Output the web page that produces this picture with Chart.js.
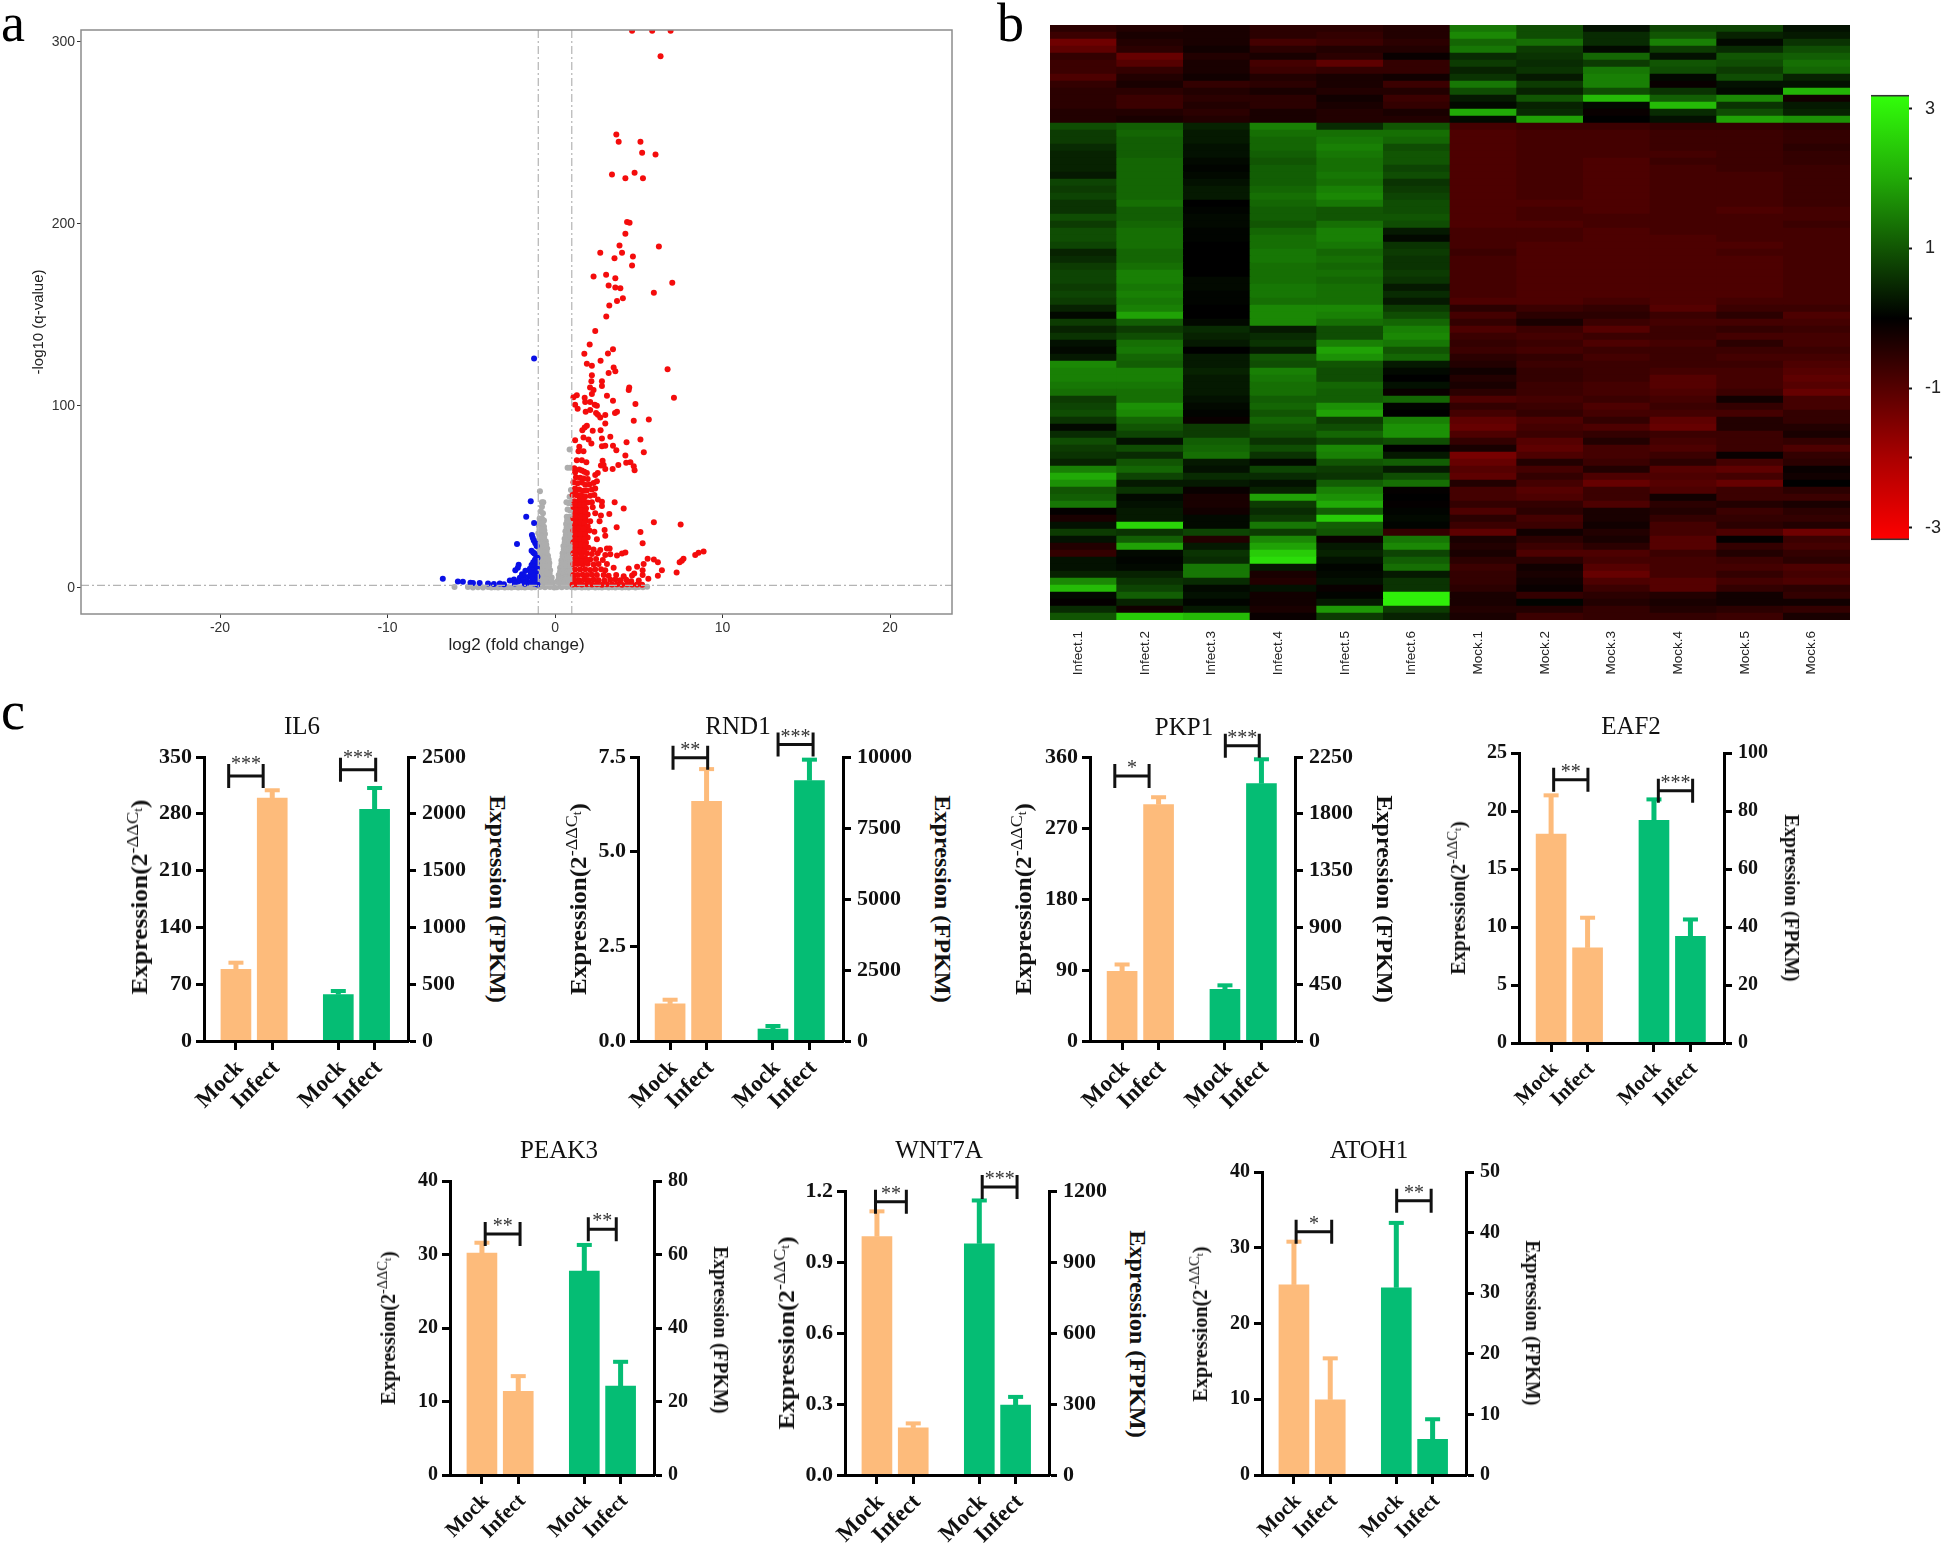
<!DOCTYPE html>
<html>
<head>
<meta charset="utf-8">
<script src="https://cdn.jsdelivr.net/npm/chart.js@4/dist/chart.umd.min.js"></script>
<style>
  body { margin: 0; background: #fff; }
  #page { position: relative; width: 1946px; height: 1543px; overflow: hidden; }
  canvas { position: absolute; }
  .letter { position: absolute; font: 54px "Liberation Serif", serif; color: #000; line-height: 1; }
  .gene { position: absolute; font: 25px "Liberation Serif", serif; color: #111; transform: translate(-50%, -50%); white-space: nowrap; }
  .axtitle { position: absolute; font-family: "Liberation Serif", serif; font-weight: bold; color: #111; white-space: nowrap; line-height: 1; }
  .axtitle sup { font-size: 72%; font-weight: normal; line-height: 0; }
  .axtitle sub { font-size: 75%; line-height: 0; }
</style>
</head>
<body>
<div id="page"></div>
<script>
// ---- panel a: volcano plot, [log2FC, -log10 q]
const redPoints = [
  [4.6,306],[5.8,306],[6.9,306],[6.3,292],[3.66,249],[3.8,245],[5.1,245],[5.2,239],[6.0,238],
  [3.4,227],[4.75,228],[4.2,225],[5.25,225],[4.3,201],[4.45,200.5],[4.2,194.5],[3.85,188],[6.2,187.5],
  [4.0,184],[2.7,184],[3.55,181],[4.65,182],[4.6,177],[3.05,172],[2.3,171],[3.6,170],[7.0,167.5],
  [3.2,166],[3.6,165],[3.9,164.5],[5.9,162],[4.05,159],[3.7,157.5],[3.24,155],[3.06,149],[2.4,141],
  [2.07,133.7],[3.46,131],[3.16,128.7],[1.75,128.6],[2.72,124.7],[1.9,123],[2.2,122],[3.5,121],[6.72,120],
  [3.6,119],[3.2,118],[2.2,116.7],[2.17,113.5],[2.8,113.5],[2.8,110.8],[4.43,110],[4.4,108.6],[2.09,110],
  [2.3,108.6],[2.2,106.4],[1.3,105.7],[1.1,104.6],[3.1,105.5],[7.1,104.4],[1.77,104.4],[1.8,102],[3.46,102.7],
  [2.1,102],[2.37,100.5],[2.5,100],[4.8,101],[1.2,100.5],[1.35,98.4],[1.83,96.7],[2.1,97.6],[2.45,96],
  [2.56,95],[2.7,93.6],[3.0,94.9],[3.7,96.7],[3.58,96],[4.7,91.8],[5.6,92.5],[3.0,90.3],[1.9,89],[1.77,88],
  [1.63,86.6],[2.25,86.3],[2.72,86.6],[1.7,82.6],[1.2,81],[2.0,81.5],[2.17,79.3],[2.8,82],[3.3,83],[4.27,80],
  [5.1,81.5],[1.45,77.5],[1.4,75],[1.7,75],[2.8,77.8],[3.0,78],[3.46,78],[3.66,75.5],[5.3,74.4],[4.2,72.7],
  [1.3,70],[1.6,70],[1.87,68.9],[2.84,69.8],[2.74,67.2],[2.9,67.4],[4.25,68.7],[4.5,69],[3.78,67.4],[4.7,66.8],
  [3.0,65.2],[3.44,65.2],[4.75,64.5],
  [1.15,65.6],[1.2,63.5],[1.45,65],[1.6,64.4],[1.75,63.8],[1.9,63],[1.25,60.7],[1.5,60.5],[1.7,60],[1.95,59.7],[2.4,62],[2.55,63],
  [1.1,58],[1.35,57.4],[1.6,57.8],[1.8,56.6],[2.05,56.7],[2.3,57.5],[2.5,58.5],[1.2,54.5],[1.45,54],[1.7,53.3],[1.9,53.5],[2.2,54],[2.4,54.6],
  [1.05,51],[1.3,50.8],[1.55,51],[1.8,50.2],[2.1,50.5],[2.35,51],[2.56,48.5],[2.8,47.3],[2.8,44.9],[3.56,47],[1.15,47.6],[1.4,47.4],[1.65,47.8],[1.95,46.8],[2.2,47],
  [1.1,44.4],[1.35,44],[1.6,44.2],[1.85,43.5],[2.25,44.2],[4.1,43.6],[1.2,41],[1.45,40.8],[1.7,40.5],[1.95,40.2],[2.4,41],[3.24,40.5],[2.74,39.7],
  [1.1,38],[1.35,37.5],[1.6,37.6],[1.85,37],[2.1,36.6],[2.66,36.6],[5.9,36],[7.5,34.8],[1.2,34.4],[1.45,34.5],[1.7,34],[1.95,33.8],[3.68,33.3],
  [1.1,31.4],[1.3,31],[1.55,31.2],[1.8,31],[2.05,31.4],[2.35,30.8],[2.96,31.7],[5.1,30.6],[1.2,28],[1.45,28.2],[1.7,28],[1.95,27.6],[3.0,28.6],
  [1.1,25],[1.35,25.2],[1.6,25],[1.85,24.8],[2.5,26.6],[5.23,24.5],[1.2,22],[1.45,22.2],[1.7,21.8],[2.0,22],[2.3,21],[3.1,21.6],[3.26,21.6],[2.7,20.7],
  [1.1,19],[1.35,19.2],[1.6,18.8],[1.9,19],[2.2,18.6],[2.55,19],[3.0,18],[3.3,18.4],[4.0,18.9],[4.2,19.4],[3.7,17.8],[8.87,20],[8.57,19.2],[8.37,18],
  [1.2,16],[1.5,16],[1.8,16.2],[2.1,15.6],[2.45,15.8],[2.85,15.2],[7.67,16],[7.57,14.8],[7.44,14],[5.9,15.6],[5.53,16],[6.14,14],
  [1.1,13],[1.35,13],[1.65,12.8],[1.95,13.2],[2.3,12.8],[2.6,13],[3.1,13],[5.29,13],[4.9,11.5],[4.4,10.6],[3.5,11],
  [1.2,10],[1.5,10],[1.8,10.2],[2.1,9.8],[2.4,10],[2.75,10.2],[3.0,9.6],[5.23,9.7],[6.38,9.7],[7.26,8.4],[4.73,7.9],
  [1.1,7],[1.35,7],[1.65,7.2],[1.9,7],[2.2,7.2],[2.5,7],[2.9,7],[3.2,6.6],[3.65,7],[4.1,6.4],[4.6,6.8],[5.23,7],[6.14,6.6],
  [1.15,4.4],[1.45,4.2],[1.75,4.5],[2.0,4.2],[2.3,4.4],[2.6,4.2],[2.95,4],[3.3,4.4],[3.6,4.6],[3.9,4.2],[4.25,4.4],[4.55,3.6],[5.0,4],[5.57,5],
  [1.05,1.8],[1.3,2],[1.6,1.8],[1.9,2],[2.2,1.8],[2.5,2],[2.8,1.7],[3.1,2],[3.4,1.8],[3.7,2],[4.0,1.7],[4.3,2],[4.6,1.8],[4.9,1.8],[5.2,1.6],
  [1.22,52.5],[1.48,49],[1.72,48.8],[1.25,45.8],[1.5,45.6],[1.75,45.6],[1.25,42.5],[1.55,42.4],[1.8,42],[1.22,39.5],[1.55,39],[1.8,38.8],
  [1.25,36],[1.5,36],[1.75,35.6],[1.2,32.8],[1.45,32.8],[1.7,32.4],[1.25,29.6],[1.5,29.6],[1.8,29.4],[1.22,26.6],[1.5,26.6],[1.75,26.4],
  [1.22,23.6],[1.55,23.6],[1.8,23.2],[1.22,20.6],[1.5,20.6],[1.75,20.2],[1.25,17.4],[1.6,17.4],[1.3,14.5],[1.55,14.4],[1.85,14.6]
];
const bluePoints = [
  [-1.25,126],[-1.45,47.6],[-1.72,39],[-1.25,35.6],[-1.38,29],[-1.33,27.5],[-1.27,26],[-1.18,24.5],[-1.1,23],[-2.27,24],
  [-1.4,20.3],[-1.3,19.4],[-1.23,18.9],[-1.12,17.5],[-1.05,16.4],[-1.2,15.4],[-1.3,14],[-1.1,13.5],[-1.4,12.5],[-1.25,11.5],[-1.08,11],[-1.5,10.5],[-1.35,9.8],
  [-2.17,12.6],[-2.22,11],[-2.37,9.7],[-1.77,9.3],[-1.97,7.5],[-1.85,6.6],[-1.15,8.6],[-1.45,8.2],[-1.25,6.8],[-1.05,6.2],[-1.55,6],[-1.35,4.8],[-1.12,3.8],
  [-2.1,5.5],[-2.45,4.5],[-2.7,4],[-1.7,4.2],[-1.95,3.8],[-2.2,3.4],[-1.5,2.8],[-1.25,2.4],[-1.05,1.8],[-1.8,2.2],[-2.4,2.4],[-3.05,1.9],[-3.3,2.3],[-3.65,2.1],
  [-4,2.3],[-4.5,2.6],[-4.9,2.6],[-5.05,2.8],[-5.5,3.3],[-5.8,3.5],[-6.7,5]
];
const greyPoints = [
  [-0.9,53],[-0.78,47],[-0.7,47],[-0.78,44.5],[-0.85,42],[-0.72,41],[-0.92,38],[-0.78,38],[-0.66,37],[-0.96,34],[-0.82,34],[-0.66,33.5],
  [-1,30],[-0.86,30],[-0.72,30],[-0.6,29.5],[-1,26],[-0.86,26],[-0.72,26],[-0.55,25.6],[-1,22],[-0.86,22],[-0.72,22],[-0.58,22],[-0.47,21.6],
  [-1,18],[-0.86,18],[-0.72,18],[-0.58,18],[-0.42,17.6],[-1,14],[-0.86,14],[-0.72,14],[-0.57,14],[-0.44,14],[-0.34,13.6],
  [-1,10],[-0.86,10],[-0.72,10],[-0.57,10],[-0.43,10],[-0.29,9.6],[-1,6],[-0.84,6],[-0.68,6],[-0.52,6],[-0.36,6],[-0.2,5.6],
  [-1,3],[-0.82,3],[-0.64,3],[-0.46,3],[-0.28,3],[-0.12,2.8],
  [-0.9,36],[-0.74,35.6],[-0.93,32],[-0.78,32],[-0.64,31.6],[-0.93,28],[-0.79,28],[-0.65,27.6],[-0.93,24],[-0.79,24],[-0.65,24],[-0.52,23.6],
  [-0.93,20],[-0.79,20],[-0.65,20],[-0.5,19.6],[-0.93,16],[-0.79,16],[-0.65,16],[-0.5,16],[-0.38,15.6],[-0.93,12],[-0.79,12],[-0.65,12],[-0.5,12],[-0.36,11.8],
  [-0.93,8],[-0.79,8],[-0.62,8],[-0.47,8],[-0.32,7.8],[-0.92,4.5],[-0.74,4.5],[-0.56,4.5],[-0.38,4.5],[-0.22,4.4],
  [0.87,76],[0.75,66],[0.9,66],[0.95,53.7],[0.87,50],[0.68,47],[0.82,46.5],[0.96,47],[0.75,43],[0.9,42.5],[0.7,39],[0.84,39],[0.97,39],
  [0.66,35],[0.8,35],[0.95,35],[0.62,31],[0.76,31],[0.9,31],[0.57,27],[0.71,27],[0.85,27],[0.97,27],[0.5,23],[0.64,23],[0.78,23],[0.92,23],
  [0.45,19],[0.58,19],[0.72,19],[0.86,19],[0.97,19],[0.38,15],[0.52,15],[0.66,15],[0.8,15],[0.94,15],[0.3,11],[0.44,11],[0.58,11],[0.72,11],[0.86,11],[0.98,11],
  [0.22,7],[0.36,7],[0.5,7],[0.64,7],[0.78,7],[0.92,7],[0.14,3.4],[0.3,3.4],[0.46,3.4],[0.62,3.4],[0.78,3.4],[0.94,3.4],
  [0.72,37],[0.88,37],[0.69,33],[0.84,33],[0.98,33],[0.64,29],[0.8,29],[0.94,29],[0.58,25],[0.72,25],[0.86,25],[0.98,25],[0.52,21],[0.66,21],[0.8,21],[0.94,21],
  [0.45,17],[0.6,17],[0.74,17],[0.88,17],[0.38,13],[0.52,13],[0.66,13],[0.8,13],[0.94,13],[0.3,9],[0.44,9],[0.58,9],[0.72,9],[0.86,9],[0.22,5],[0.36,5],[0.5,5],[0.64,5],[0.78,5],[0.92,5],
  [-6,0.4],[-5.2,0.5],[-4.9,0.2],[-4.6,0.3],[-4.3,0.2],[-4,0.4],[-3.8,0.1],[-3.6,0.3],[-3.4,0.1],[-3.2,0.4],[-3,0.1],[-2.8,0.3],[-2.6,0.1],[-2.4,0.4],[-2.2,0.1],[-2,0.3],[-1.8,0.1],[-1.6,0.4],[-1.4,0.1],[-1.2,0.3],[-0.9,0.4],[-0.75,0.9],[-0.6,0.3],[-0.45,1],[-0.3,0.4],[-0.05,0.2],
  [0.1,0.3],[0.25,1],[0.4,0.3],[0.55,1],[0.7,0.4],[0.85,0.9],[1,0.3],[1.2,0.1],[1.4,0.4],[1.6,0.1],[1.8,0.3],[2,0.1],[2.2,0.4],[2.4,0.1],[2.6,0.3],[2.8,0.1],[3,0.4],[3.2,0.1],[3.4,0.3],[3.6,0.1],[3.8,0.4],[4,0.1],[4.2,0.3],[4.4,0.1],[4.6,0.4],[4.8,0.2],[5,0.5],[5.25,0.3],[5.5,0.6]
];
const volcanoXTicks = [-20, -10, 0, 10, 20];
const volcanoYTicks = [0, 100, 200, 300];

// ---- panel b: heatmap, rows top to bottom, 6 Infect then 6 Mock columns
const sampleNames = ['Infect.1','Infect.2','Infect.3','Infect.4','Infect.5','Infect.6','Mock.1','Mock.2','Mock.3','Mock.4','Mock.5','Mock.6'];
const heatRows = [
  [-.5,-.4,-.3,-.5,-.5,-.4, 1.4,.9,.2,.8,.8,.2],
  [-.7,-.3,-.3,-.5,-.6,-.4, 1.6,.9,.5,1,.4,.3],
  [-1.3,-.4,-.3,-.8,-.7,-.5, 1.2,1.3,.5,1.5,.1,.6],
  [-1.1,-.5,-.2,-.5,-.4,-.4, 1.4,.7,.1,.7,.5,.9],
  [-.6,-1.2,-.4,-.3,-.5,-.1, .5,.6,1.2,.2,1,1.1],
  [-.7,-1,-.3,-.8,-1.1,-.6, .7,.5,.7,1,.9,1.3],
  [-.7,-.6,-.3,-.7,-.6,-.6, .4,.6,1.4,.9,.7,1.2],
  [-.9,-.4,-.2,-.4,-.3,-.2, .6,.3,1.5,.1,.9,.4],
  [-.6,-.3,-.6,-.5,-.3,-.7, 1.4,.7,1.5,-.1,.2,.2],
  [-.5,-.5,-.4,-.3,-.4,-.4, .9,.4,.9,.6,.1,2.1],
  [-.5,-.7,-.5,-.5,-.2,-.7, .3,1,2.2,1.1,1.6,-.2],
  [-.5,-.7,-.4,-.5,-.3,-.6, .1,.4,.1,2.2,.6,.3],
  [-.4,-.4,-.5,-.3,-.4,-.3, 2,.5,-.1,.5,.9,.4],
  [-.4,-.3,-.4,-.3,-.4,-.4, .1,1.9,0,.2,1.9,1.7],
  [.9,1.1,.4,1.5,.5,1, -.8,-.7,-.7,-.6,-.6,-.5],
  [.7,1.2,.3,1.3,1.3,1.3, -.9,-.8,-.8,-.7,-.7,-.6],
  [.7,1.1,.3,1.2,1.4,1.2, -.9,-.8,-.8,-.7,-.7,-.6],
  [.5,1.1,.2,1.2,1.5,.9, -.9,-.8,-.8,-.7,-.7,-.5],
  [.4,1.1,.2,1.1,1.4,1, -.9,-.8,-.8,-.8,-.7,-.6],
  [.4,1.2,.1,1,1.3,1, -.9,-.8,-.9,-.7,-.7,-.6],
  [.4,1.2,.05,1.1,1.3,.8, -.9,-.8,-.9,-.8,-.7,-.7],
  [.3,1.2,.1,1.1,1.4,.9, -.9,-.8,-.9,-.8,-.8,-.7],
  [.8,1.2,.2,1.1,1.3,.6, -.9,-.8,-.9,-.8,-.8,-.7],
  [.7,1.2,.3,1.2,1.5,.7, -.9,-.8,-.9,-.8,-.8,-.7],
  [.8,1.2,.3,1.3,1.6,.8, -.9,-.8,-.9,-.8,-.8,-.7],
  [.6,1.3,0,1.2,1.4,.9, -.9,-.9,-.9,-.8,-.8,-.7],
  [.6,1.1,.05,1.1,1,.9, -.9,-.8,-.9,-.8,-.9,-.8],
  [.9,1.1,.1,1.1,1,1, -.9,-.8,-.8,-.8,-.8,-.8],
  [.7,1.2,.1,1,1.3,.9, -.9,-.9,-.8,-.8,-.8,-.7],
  [.9,1.3,.05,1.2,1.5,.3, -.8,-.8,-.9,-.8,-.8,-.8],
  [.9,1.3,.05,1.3,1.5,.1, -.8,-.8,-.9,-.9,-.8,-.8],
  [.8,1.3,0,1.3,1.4,.6, -.8,-.9,-.9,-.9,-.9,-.8],
  [.4,1.2,0,1.4,1.2,.7, -.7,-.9,-.9,-.9,-.8,-.8],
  [.5,1.2,0,1.4,1.3,.6, -.8,-.9,-.9,-.9,-.9,-.8],
  [.7,1.3,0,1.3,1.2,.6, -.8,-.9,-.9,-.9,-.9,-.8],
  [.8,1.5,0,1.3,1.3,.7, -.8,-.9,-.9,-.9,-.9,-.8],
  [.8,1.5,.1,1.3,1.2,.6, -.8,-.9,-.9,-.9,-.9,-.8],
  [.7,1.4,.1,1.4,1.3,.3, -.8,-.9,-.9,-.9,-.9,-.8],
  [.8,1.5,.05,1.4,1.3,.5, -.8,-.9,-.9,-.9,-.9,-.8],
  [.7,1.4,.05,1.3,1.3,.3, -.9,-.9,-.8,-.9,-.8,-.8],
  [.4,1.5,0,1.6,1.6,.7, -.5,-.7,-.6,-1,-.7,-.7],
  [.1,1.9,0,1.6,1.5,.9, -.8,-.5,-.5,-.7,-.5,-.9],
  [.7,1.1,.1,1.6,1.3,1.2, -.6,-.3,-.7,-.8,-.8,-.8],
  [.4,.7,.5,.3,.9,1.5, -.9,-.7,-1,-.7,-.6,-.7],
  [.6,.9,.4,.5,.9,1.6, -.7,-.8,-.7,-.7,-.8,-.8],
  [.2,1.3,.3,.6,1.5,1.4, -.6,-.7,-.9,-.8,-.5,-.8],
  [.1,1.4,0,.3,1.9,1, -.7,-.8,-.7,-.7,-.7,-.7],
  [.3,1.2,.3,1,1.7,1.2, -.5,-.6,-.8,-.7,-.8,-.8],
  [1.6,1.1,.3,.9,1,.3, -.4,-.7,-.7,-.7,-.7,-.9],
  [1.5,1.5,.4,1.5,.9,.1, -.2,-.6,-.7,-.8,-.8,-1],
  [1.5,1.5,.3,1.4,.9,0, -.4,-.6,-.7,-1,-.8,-1.1],
  [1.4,1.4,.3,1.3,1.2,.2, -.3,-.7,-.8,-1,-.8,-1],
  [1.3,1.3,.3,1.3,1.1,-.1, -.5,-.7,-.8,-.9,-.7,-1.2],
  [.7,1.3,.2,1.1,1.1,1.2, -.9,-.8,-.7,-.8,-.2,-.8],
  [.8,1.7,.1,1.2,1.7,.05, -.6,-.7,-.9,-.7,-.6,-.8],
  [.9,1.6,.05,1,1.9,0, -.8,-.6,-.8,-.8,-.8,-.6],
  [.6,1.2,-.1,1.2,.7,1.5, -1.1,-.9,-.6,-1.1,-.4,-.6],
  [.1,1,.7,1,.9,1.7, -1.2,-.8,-.9,-1.2,-.4,-.4],
  [.5,.8,.7,.9,1.2,1.7, -.9,-.7,-.6,-.7,-.7,-.3],
  [.9,.2,1.1,.6,.8,.9, -.6,-1,-.4,-.8,-.7,-.6],
  [.7,.9,1.2,.9,1.6,0, -.3,-1.1,-.8,-.9,-.7,-.9],
  [.6,.5,1.3,.6,1.5,.3, -1.4,-.9,-.8,-.7,-.1,-.6],
  [.4,1,.3,.1,1,1.1, -1.2,-.4,-.7,-.5,-.8,-.5],
  [1.5,1.2,.2,.8,.7,.3, -1,-.8,-.4,-1,-1.1,-.1],
  [2,.8,.5,.5,.6,.9, -1.1,-.6,-.9,-.9,-.8,-.2],
  [1.7,.3,.3,.2,1.1,1.3, -.4,-.8,-1.2,-1,-1.2,0],
  [1,.6,-.1,.4,1.5,-.05, -.8,-1,-.7,-.9,-.7,-.5],
  [1.1,.1,-.3,1.9,1.7,0, -.8,-.9,-.7,-.2,-.7,-.7],
  [1.4,.2,-.3,.7,2,-.05, -.6,-.6,-.9,-.5,-.4,-.3],
  [-.05,.3,-.2,.5,1.1,.05, -.9,-.5,-.3,-.4,-.7,-.5],
  [-.3,.3,.1,.7,2.4,.1, -.5,-.8,-.3,-.6,-.6,-.6],
  [.2,2.5,.1,1.4,1.1,.05, -.7,-.7,-.2,-.8,-.5,-.4],
  [.7,.6,.8,.7,1,-.6, -1.1,-.2,-.4,-.8,-.9,-1.3],
  [.2,1.1,-.4,1.6,-.1,1.4, -.3,-.5,-.3,-1,-.05,-.7],
  [-.4,1.9,.3,1.9,.3,1.6, -.4,-.7,-.5,-1,-.6,-.8],
  [-.6,.1,.6,2.4,.4,.8, -.3,-.9,-.9,-.7,-.4,-.6],
  [.2,.05,.5,2.6,.2,1.1, -.5,-.5,-.8,-.8,-.7,-.5],
  [.2,.1,1.4,.3,.05,1.3, -.7,-.2,-1,-.8,-.8,-.9],
  [.4,.4,1.4,-.3,.1,.3, -.6,-.3,-1.2,-.8,-.6,-.8],
  [1.6,.6,.5,-.4,.2,.6, -.6,-.2,-.9,-1,-.8,-.9],
  [2.2,.8,.1,.2,-.1,.6, -.5,-.1,-.7,-1,-.6,-.5],
  [.1,1.1,.2,-.2,.05,2.8, -.3,-.6,-.5,-.4,-.2,-.6],
  [-.05,.4,.05,-.2,.3,2.8, -.3,.05,-.4,-.3,-.2,-.2],
  [.5,-.2,.3,-.3,1.8,.7, -.4,-.4,-.6,-.4,-.5,-.6],
  [1,2.4,2.2,-.1,.7,.4, -.3,-.7,-.6,-.6,-.7,-.3]
];
const colorbarTicks = [3, 2, 1, 0, -1, -2, -3];
const colorbarLabels = ['3', '', '1', '', '-1', '', '-3'];

// ---- panel c: qPCR (left axis, orange) next to FPKM (right axis, green)
const geneNames = ['IL6', 'RND1', 'PKP1', 'EAF2', 'PEAK3', 'WNT7A', 'ATOH1'];
const groupLabels = ['Mock', 'Infect', 'Mock', 'Infect'];
const leftTicks = [
  ['0','70','140','210','280','350'],
  ['0.0','2.5','5.0','7.5'],
  ['0','90','180','270','360'],
  ['0','5','10','15','20','25'],
  ['0','10','20','30','40'],
  ['0.0','0.3','0.6','0.9','1.2'],
  ['0','10','20','30','40']
];
const rightTicks = [
  ['0','500','1000','1500','2000','2500'],
  ['0','2500','5000','7500','10000'],
  ['0','450','900','1350','1800','2250'],
  ['0','20','40','60','80','100'],
  ['0','20','40','60','80'],
  ['0','300','600','900','1200'],
  ['0','10','20','30','40','50']
];
const qpcrMeans = [[88.3,299.5],[0.98,6.33],[88.3,299.6],[18,8.2],[30.2,11.4],[1.007,0.199],[25.1,9.93]];
const qpcrTops = [[96.5,309],[1.09,7.18],[97,309],[21.35,10.8],[31.6,13.45],[1.114,0.218],[30.8,15.4]];
const fpkmMeans = [[408,2040],[422,9168],[409,2039],[76.8,36.8],[55.5,24.2],[977,295],[30.9,5.9]];
const fpkmTops = [[440,2227],[528,9906],[441,2232],[84,42.6],[62.6,30.8],[1160,330],[41.6,9.2]];
// brackets: [from, to, height on the left axis, stars], x in bar-pitch units
const brackets = [
  [[0.68,1.63,326.6,'***'],[3.76,4.73,334.4,'***']],
  [[0.96,1.91,7.48,'**'],[3.84,4.8,7.83,'***']],
  [[0.68,1.62,335.9,'*'],[3.71,4.64,374.4,'***']],
  [[0.95,1.89,22.7,'**'],[3.82,4.76,21.75,'***']],
  [[0.97,1.93,32.8,'**'],[3.81,4.58,33.45,'**']],
  [[0.84,1.69,1.155,'**'],[3.78,4.74,1.217,'***']],
  [[0.94,1.92,32.1,'*'],[3.71,4.66,36.2,'**']]
];

// layout only from here on
const barX = [0.88, 1.88, 3.7, 4.7];
const xSpan = 5.62;
const panelBoxes = [ // left axis, right axis, top tick, zero line, tick font
  [204, 408, 757, 1041, 22], [638, 843, 757, 1041, 22], [1090, 1295, 757, 1041, 22], [1519, 1724, 753, 1043, 20],
  [450, 654, 1181, 1475, 20], [845, 1049, 1191, 1475, 22], [1262, 1466, 1172, 1475, 20]
];
const starLift = [7, 3, 3, 3, 3, 3, 3];
const titleSpots = [[302,726],[738,726],[1184,727],[1631,726],[559,1150],[939,1150],[1369,1150]];
const leftTitles = [[139,897,195,24],[578,899,192,24],[1023,899,192,24],[1458,898,153,20],[388,1328,153,20],[786,1333,193,24],[1200,1324,155,20]];
const rightTitles = [[498,899,208,24],[943,899,208,24],[1385,899,208,24],[1792,898,167,20],[721,1330,167,20],[1138,1334,208,24],[1533,1323,165,20]];

const ORANGE = '#FDBB7B', GREEN = '#05BD74';
const page = document.getElementById('page');
Chart.defaults.animation = false;
Chart.defaults.events = [];

function addCanvas(left, top, w, h) {
  const c = document.createElement('canvas');
  c.width = w; c.height = h;
  c.style.left = left + 'px'; c.style.top = top + 'px';
  c.style.width = w + 'px'; c.style.height = h + 'px';
  page.appendChild(c);
  return c.getContext('2d');
}
function addText(cls, html, x, y) {
  const d = document.createElement('div');
  d.className = cls; d.innerHTML = html;
  d.style.left = x + 'px'; d.style.top = y + 'px';
  page.appendChild(d);
  return d;
}
function addAxisTitle(html, spot, angle) {
  const d = addText('axtitle', html, spot[0], spot[1]);
  d.style.fontSize = spot[3] + 'px';
  const k = spot[2] / d.offsetWidth;
  d.style.transform = 'translate(-50%,-50%) rotate(' + angle + 'deg) scaleX(' + k.toFixed(3) + ')';
}
const fixedTicks = list => scale => { scale.ticks = list.map(v => ({ value: Number(v) })); };

addText('letter', 'a', 1, -4);
addText('letter', 'b', 997, -4);
addText('letter', 'c', 1, 684);

// ---- a
const frame = {
  id: 'frame',
  afterDraw(chart) {
    const a = chart.chartArea, ctx = chart.ctx;
    ctx.save();
    ctx.lineWidth = 1.5;
    ctx.strokeStyle = '#8c8c8c';
    ctx.strokeRect(a.left, a.top, a.right - a.left, a.bottom - a.top);
    ctx.restore();
  }
};
const toXY = p => ({ x: p[0], y: p[1] });
const guide = pts => ({ data: pts.map(toXY), showLine: true, pointRadius: 0, borderColor: '#b4b4b4', borderWidth: 1.2, borderDash: [8, 3, 2, 3] });
const dots = (pts, color) => ({ data: pts.map(toXY), showLine: false, pointRadius: 3, borderWidth: 0, backgroundColor: color });
new Chart(addCanvas(0, 0, 970, 664), {
  type: 'scatter',
  data: { datasets: [
    guide([[-1,-14.4],[-1,306.4]]), guide([[1,-14.4],[1,306.4]]), guide([[-28.3,1.3],[23.7,1.3]]),
    dots(redPoints, '#F40C0C'), dots(bluePoints, '#0A10E6'), dots(greyPoints, '#ADADAD')
  ] },
  plugins: [frame],
  options: {
    responsive: false,
    layout: { padding: { top: 30, right: 18 } },
    plugins: { legend: { display: false }, tooltip: { enabled: false } },
    scales: {
      x: {
        type: 'linear', min: -28.3, max: 23.7,
        afterBuildTicks: fixedTicks(volcanoXTicks), afterFit: s => { s.height = 50; },
        grid: { drawOnChartArea: false, tickLength: 4, color: '#333' }, border: { display: false },
        ticks: { color: '#333', font: { family: 'Liberation Sans', size: 14 }, padding: 2, maxRotation: 0, autoSkip: false },
        title: { display: true, text: 'log2 (fold change)', color: '#222', font: { family: 'Liberation Sans', size: 17 }, padding: { top: 0, bottom: 8 } }
      },
      y: {
        type: 'linear', min: -14.4, max: 306.4,
        afterBuildTicks: fixedTicks(volcanoYTicks), afterFit: s => { s.width = 81; },
        grid: { drawOnChartArea: false, tickLength: 4, color: '#333' }, border: { display: false },
        ticks: { color: '#333', font: { family: 'Liberation Sans', size: 14 }, padding: 2, autoSkip: false },
        title: { display: true, text: '-log10 (q-value)', color: '#222', font: { family: 'Liberation Sans', size: 15 }, padding: { top: 30, bottom: 0 } }
      }
    }
  }
});

// ---- b
const heatColor = v => {
  const k = Math.min(Math.abs(v) / 3, 1);
  return v >= 0
    ? 'rgb(' + Math.round(50 * k) + ',' + Math.round(255 * k) + ',' + Math.round(10 * k) + ')'
    : 'rgb(' + Math.round(255 * k) + ',0,0)';
};
const heatCells = [];
heatRows.forEach((row, r) => row.forEach((v, c) => heatCells.push({ x: sampleNames[c], y: [r, r + 1], v: v })));
const heatBack = {
  id: 'heatBack',
  beforeDatasetsDraw(chart) {
    const a = chart.chartArea;
    chart.ctx.save();
    chart.ctx.fillStyle = '#2a0000';
    chart.ctx.fillRect(a.left, a.top, a.right - a.left, a.bottom - a.top);
    chart.ctx.restore();
  }
};
new Chart(addCanvas(1040, 15, 820, 680), {
  type: 'bar',
  data: { labels: sampleNames, datasets: [{
    data: heatCells, barPercentage: 1, categoryPercentage: 1, borderWidth: 0,
    backgroundColor: ctx => heatColor(ctx.raw.v)
  }] },
  plugins: [heatBack],
  options: {
    responsive: false,
    layout: { padding: { top: 10, left: 10, right: 10 } },
    plugins: { legend: { display: false }, tooltip: { enabled: false } },
    scales: {
      x: {
        afterFit: s => { s.height = 75; },
        grid: { display: false }, border: { display: false },
        ticks: { color: '#222', font: { family: 'Liberation Sans', size: 13.5 }, minRotation: 90, maxRotation: 90, autoSkip: false, padding: 3, labelOffset: -5 }
      },
      y: { display: false, reverse: true, min: 0, max: heatRows.length }
    }
  }
});

// colour key
const keyStops = [3.2, 2, 1, 0, -1, -2, -3.18];
new Chart(addCanvas(1850, 71, 96, 493), {
  type: 'bar',
  data: { labels: [''], datasets: [{
    data: [[-3.18, 3.2]], barPercentage: 1, categoryPercentage: 1,
    borderSkipped: false, borderColor: '#333', borderWidth: { top: 2, bottom: 2, left: 0, right: 0 },
    backgroundColor: ctx => {
      const area = ctx.chart.chartArea;
      if (!area || !isFinite(area.top)) return '#000';
      const g = ctx.chart.ctx.createLinearGradient(0, area.top, 0, area.bottom);
      keyStops.forEach(v => g.addColorStop(Math.min((3.2 - v) / 6.38, 1), heatColor(v)));
      return g;
    }
  }] },
  options: {
    responsive: false,
    layout: { padding: { top: 16, bottom: 17, left: 21 } },
    plugins: { legend: { display: false }, tooltip: { enabled: false } },
    scales: {
      x: { display: false },
      y: {
        position: 'right', min: -3.18, max: 3.2,
        afterBuildTicks: fixedTicks(colorbarTicks), afterFit: s => { s.width = 37; },
        grid: { drawOnChartArea: false, tickLength: 3, color: '#111', tickWidth: 2 }, border: { display: false },
        ticks: { color: '#222', font: { family: 'Liberation Sans', size: 18 }, padding: 13, autoSkip: false,
          callback: (v, i) => colorbarLabels[i] }
      }
    }
  }
});

// ---- c
const panelMarks = {
  id: 'panelMarks',
  afterDatasetsDraw(chart, args, o) {
    const ctx = chart.ctx, x = chart.scales.x, yL = chart.scales.y, yR = chart.scales.y1;
    const whisker = (pos, mean, top, scale, color) => {
      const px = x.getPixelForValue(pos);
      ctx.fillStyle = color;
      ctx.fillRect(px - 2.5, scale.getPixelForValue(top), 5, scale.getPixelForValue(mean) - scale.getPixelForValue(top));
      ctx.fillRect(px - 7.5, scale.getPixelForValue(top) - 2, 15, 4);
    };
    ctx.save();
    whisker(barX[0], o.qMeans[0], o.qTops[0], yL, ORANGE);
    whisker(barX[1], o.qMeans[1], o.qTops[1], yL, ORANGE);
    whisker(barX[2], o.fMeans[0], o.fTops[0], yR, GREEN);
    whisker(barX[3], o.fMeans[1], o.fTops[1], yR, GREEN);
    ctx.strokeStyle = '#111';
    ctx.fillStyle = '#333';
    ctx.lineWidth = 3;
    ctx.textAlign = 'center';
    ctx.textBaseline = 'alphabetic';
    ctx.font = '20px "Liberation Serif"';
    o.brackets.forEach(b => {
      const a = x.getPixelForValue(b[0]), c = x.getPixelForValue(b[1]), y = yL.getPixelForValue(b[2]);
      ctx.beginPath();
      ctx.moveTo(a, y - 12); ctx.lineTo(a, y + 12);
      ctx.moveTo(c, y - 12); ctx.lineTo(c, y + 12);
      ctx.moveTo(a, y); ctx.lineTo(c, y);
      ctx.stroke();
      ctx.fillText(b[3], (a + c) / 2, y + 1 - o.lift);
    });
    ctx.restore();
  }
};
const MARGIN = 72, TOP_ROOM = 72, BOTTOM_ROOM = 78;
geneNames.forEach((gene, i) => {
  const [l, r, t, b, tickSize] = panelBoxes[i];
  const tickFont = { family: 'Liberation Serif', size: tickSize, weight: 'bold' };
  const yAxis = (labels, side, pad) => ({
    type: 'linear', position: side, min: 0, max: Number(labels[labels.length - 1]),
    afterBuildTicks: fixedTicks(labels), afterFit: s => { s.width = MARGIN; },
    grid: { drawOnChartArea: false, tickLength: 8, tickWidth: 3, color: '#000' },
    border: { color: '#000', width: 3 },
    ticks: { color: '#111', font: tickFont, padding: pad, autoSkip: false, callback: (v, k) => labels[k] }
  });
  new Chart(addCanvas(l - MARGIN, t - TOP_ROOM, r - l + 2 * MARGIN, b - t + TOP_ROOM + BOTTOM_ROOM), {
    type: 'bar',
    data: { datasets: [
      { yAxisID: 'y', data: qpcrMeans[i].map((v, k) => ({ x: barX[k], y: v })), backgroundColor: ORANGE, barThickness: 30, grouped: false },
      { yAxisID: 'y1', data: fpkmMeans[i].map((v, k) => ({ x: barX[k + 2], y: v })), backgroundColor: GREEN, barThickness: 30, grouped: false }
    ] },
    plugins: [panelMarks],
    options: {
      responsive: false,
      layout: { padding: { top: TOP_ROOM } },
      plugins: {
        legend: { display: false }, tooltip: { enabled: false },
        panelMarks: { qMeans: qpcrMeans[i], qTops: qpcrTops[i], fMeans: fpkmMeans[i], fTops: fpkmTops[i], brackets: brackets[i], lift: starLift[i] }
      },
      scales: {
        x: {
          type: 'linear', offset: false, min: 0, max: xSpan,
          afterBuildTicks: s => { s.ticks = barX.map(v => ({ value: v })); },
          afterFit: s => { s.height = BOTTOM_ROOM; },
          grid: { offset: false, drawOnChartArea: false, tickLength: 9, tickWidth: 3, color: '#000' },
          border: { color: '#000', width: 3, z: 1 },
          ticks: { color: '#111', font: { family: 'Liberation Serif', size: tickSize + 1, weight: 'bold' }, minRotation: 45, maxRotation: 45, autoSkip: false, padding: 5, labelOffset: 4,
            callback: (v, k) => groupLabels[k] }
        },
        y: yAxis(leftTicks[i], 'left', 4),
        y1: yAxis(rightTicks[i], 'right', 6)
      }
    }
  });
  addText('gene', gene, titleSpots[i][0], titleSpots[i][1]);
  addAxisTitle('Expression(2<sup>-ΔΔC<sub>t</sub></sup>)', leftTitles[i], -90);
  addAxisTitle('Expression (FPKM)', rightTitles[i], 90);
});
</script>
</body>
</html>
